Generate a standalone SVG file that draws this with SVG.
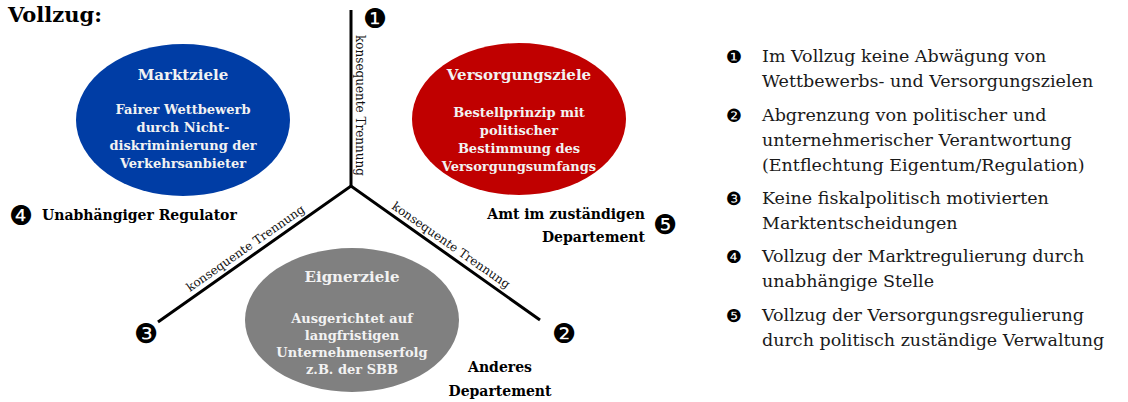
<svg xmlns="http://www.w3.org/2000/svg" width="1128" height="402" viewBox="0 0 1128 402">
<style>
.t{font-family:"DejaVu Serif","Liberation Serif",serif;}
.b{font-weight:bold;}
.w{fill:#f2f2f2;font-weight:bold;font-size:13px;text-anchor:middle;font-family:"DejaVu Serif","Liberation Serif",serif;}
.h{font-size:15px;}
.num{font-family:"DejaVu Sans",sans-serif;fill:#000;text-anchor:middle;}
.big{font-size:27px;}
.sm{font-size:18px;}
.lst{font-family:"DejaVu Serif","Liberation Serif",serif;font-size:17.5px;fill:#1a1a1a;}
.lab{font-family:"DejaVu Serif","Liberation Serif",serif;font-size:12px;fill:#111;}
.ln{stroke:#000;stroke-width:3;fill:none;}
</style>
<rect width="1128" height="402" fill="#fff"/>
<text class="t b" x="8" y="22" font-size="21">Vollzug:</text>
<g id="connectors">
<line class="ln" x1="351" y1="10" x2="351" y2="186"/>
<polyline class="ln" points="158,322 351,186 540,320"/>
<text class="lab" transform="translate(356,35) rotate(90)">konsequente Trennung</text>
<text class="lab" transform="translate(190,292) rotate(-35)">konsequente Trennung</text>
<text class="lab" transform="translate(391,208) rotate(35)">konsequente Trennung</text>
</g>
<g id="marktziele">
<ellipse cx="183" cy="120" rx="107" ry="76" fill="#003DA5"/>
<text class="w h" x="183" y="80">Marktziele</text>
<text class="w" x="183" y="114">Fairer Wettbewerb</text>
<text class="w" x="183" y="132">durch Nicht-</text>
<text class="w" x="183" y="150">diskriminierung der</text>
<text class="w" x="183" y="168">Verkehrsanbieter</text>
</g>
<g id="versorgungsziele">
<ellipse cx="519" cy="119" rx="107" ry="76" fill="#C00000"/>
<text class="w h" x="519" y="80">Versorgungsziele</text>
<text class="w" x="519" y="117">Bestellprinzip mit</text>
<text class="w" x="519" y="135">politischer</text>
<text class="w" x="519" y="153">Bestimmung des</text>
<text class="w" x="519" y="171">Versorgungsumfangs</text>
</g>
<g id="eignerziele">
<ellipse cx="352" cy="320" rx="107" ry="72" fill="#808080"/>
<text class="w h" x="352" y="282">Eignerziele</text>
<text class="w" x="352" y="323">Ausgerichtet auf</text>
<text class="w" x="352" y="340">langfristigen</text>
<text class="w" x="352" y="357">Unternehmenserfolg</text>
<text class="w" x="352" y="374">z.B. der SBB</text>
</g>
<g id="n1"><text class="num big" x="375" y="28">❶</text></g>
<g id="n2"><text class="num big" x="564" y="343">❷</text></g>
<g id="n3"><text class="num big" x="146" y="343">❸</text></g>
<g id="regulator">
<text class="num big" x="21" y="225">❹</text>
<text class="t b" x="42" y="220" font-size="14">Unabhängiger Regulator</text>
</g>
<g id="amt">
<text class="t b" x="645" y="219" font-size="14" text-anchor="end">Amt im zuständigen</text>
<text class="t b" x="645" y="242" font-size="14" text-anchor="end">Departement</text>
<text class="num big" x="665" y="234">❺</text>
</g>
<g id="anderes">
<text class="t b" x="500" y="372" font-size="14" text-anchor="middle">Anderes</text>
<text class="t b" x="500" y="396" font-size="14" text-anchor="middle">Departement</text>
</g>
<g id="list">
<text class="num sm" x="734" y="63">❶</text>
<text class="lst" x="762" y="62">Im Vollzug keine Abwägung von</text>
<text class="lst" x="762" y="87">Wettbewerbs- und Versorgungszielen</text>
<text class="num sm" x="734" y="122">❷</text>
<text class="lst" x="762" y="121">Abgrenzung von politischer und</text>
<text class="lst" x="762" y="146">unternehmerischer Verantwortung</text>
<text class="lst" x="762" y="171">(Entflechtung Eigentum/Regulation)</text>
<text class="num sm" x="734" y="205">❸</text>
<text class="lst" x="762" y="204">Keine fiskalpolitisch motivierten</text>
<text class="lst" x="762" y="229">Marktentscheidungen</text>
<text class="num sm" x="734" y="263">❹</text>
<text class="lst" x="762" y="262">Vollzug der Marktregulierung durch</text>
<text class="lst" x="762" y="287">unabhängige Stelle</text>
<text class="num sm" x="734" y="322">❺</text>
<text class="lst" x="762" y="321">Vollzug der Versorgungsregulierung</text>
<text class="lst" x="762" y="346">durch politisch zuständige Verwaltung</text>
</g>
</svg>
